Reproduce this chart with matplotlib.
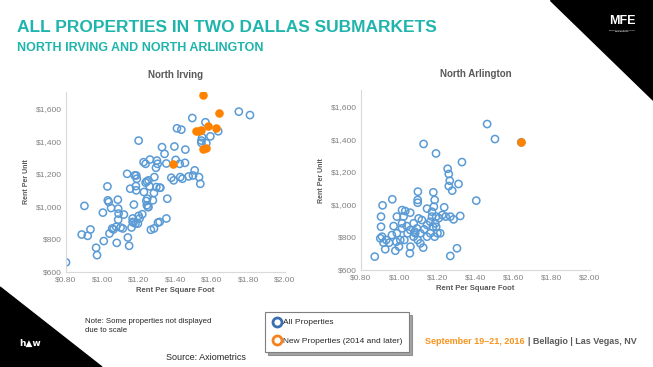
import matplotlib
matplotlib.use("Agg")
from matplotlib import pyplot as plt
from matplotlib.lines import Line2D
from matplotlib.patches import Polygon
from matplotlib.ticker import FuncFormatter, MultipleLocator

plt.rcParams['font.family'] = ['Liberation Sans', 'DejaVu Sans']

# North Irving - all properties (rent per sq ft, rent per unit)
irving_psf = [0.80, 0.886, 0.919, 0.934, 0.901, 0.965, 0.970, 1.007, 1.002, 1.027,
              1.029, 1.034, 1.047, 1.053, 1.060, 1.038, 1.075, 1.086, 1.084, 1.088,
              1.086, 1.078, 1.099, 1.111, 1.117, 1.135, 1.139, 1.146, 1.152, 1.159,
              1.165, 1.165, 1.172, 1.176, 1.185, 1.188, 1.185, 1.183, 1.170, 1.181,
              1.194, 1.198, 1.203, 1.198, 1.218, 1.225, 1.236, 1.227, 1.236, 1.240,
              1.243, 1.245, 1.249, 1.243, 1.252, 1.258, 1.252, 1.260, 1.265, 1.276,
              1.282, 1.282, 1.284, 1.293, 1.298, 1.302, 1.295, 1.304, 1.313, 1.313,
              1.317, 1.326, 1.340, 1.350, 1.355, 1.350, 1.377, 1.390, 1.394, 1.401,
              1.408, 1.423, 1.432, 1.426, 1.438, 1.454, 1.452, 1.472, 1.492, 1.496,
              1.505, 1.529, 1.536, 1.542, 1.542, 1.546, 1.564, 1.569, 1.591, 1.634,
              1.747, 1.808]
irving_rent = [659, 829, 821, 860, 1004, 748, 703, 789, 963, 1123,
               1038, 1028, 991, 866, 860, 835, 876, 987, 1042, 957,
               920, 778, 872, 866, 951, 1200, 811, 760, 1109, 872,
               927, 906, 1012, 1190, 1190, 1170, 1099, 1125, 902, 896,
               896, 943, 927, 1403, 953, 1271, 1261, 1089, 1146, 1034,
               1008, 1048, 997, 1154, 1160, 1123, 997, 1287, 858, 1038,
               866, 1083, 1180, 1237, 1281, 1261, 1119, 902, 906, 1115,
               1115, 1363, 1322, 1263, 1048, 927, 1176, 1160, 1367, 1285,
               1478, 1261, 1470, 1180, 1170, 1348, 1267, 1184, 1541, 1190,
               1221, 1180, 1139, 1403, 1389, 1423, 1515, 1387, 1429, 1460,
               1580, 1559]

# North Irving - new properties (2014 and later)
irving_new_psf = [1.514, 1.541, 1.578, 1.620, 1.637, 1.550, 1.550, 1.565, 1.385, 1.530]
irving_new_rent = [1464, 1468, 1495, 1479, 1572, 1681, 1353, 1357, 1262, 1462]

# North Arlington - all properties
arl_psf = [0.872, 0.913, 0.964, 1.128, 1.193, 1.329, 1.254, 1.260, 1.265, 1.260,
           1.311, 1.278, 1.461, 1.502, 1.404, 1.098, 1.097, 1.097, 1.179, 1.186,
           1.182, 1.146, 1.236, 1.320, 1.268, 1.285, 1.208, 0.905, 0.905, 0.910,
           0.901, 0.918, 0.932, 0.927, 0.980, 0.999, 0.971, 0.988, 1.015, 1.032,
           1.058, 1.023, 1.040, 1.015, 1.027, 1.059, 1.056, 1.126, 1.093, 1.084,
           1.102, 1.076, 1.111, 1.131, 1.146, 1.163, 1.172, 1.177, 1.189, 1.186,
           1.201, 1.215, 1.268, 1.303, 1.146, 1.119, 1.058, 1.044, 0.988, 1.006,
           0.962, 0.985, 0.947, 1.097, 1.111, 1.163, 1.194, 1.081, 1.076, 1.015,
           1.194, 1.226, 1.244, 1.172, 1.640]
arl_rent = [682, 996, 1033, 1372, 1314, 1261, 1220, 1188, 1147, 1114,
            1127, 1086, 1494, 1402, 1025, 1080, 1029, 1012, 1076, 1029,
            988, 976, 984, 931, 927, 910, 918, 927, 865, 804,
            794, 767, 784, 727, 718, 743, 869, 927, 967, 961,
            951, 927, 869, 855, 784, 743, 702, 737, 855, 825,
            916, 804, 825, 849, 876, 896, 927, 865, 886, 804,
            825, 825, 686, 733, 804, 906, 845, 825, 825, 784,
            814, 773, 767, 784, 763, 825, 865, 835, 886, 886,
            927, 937, 927, 957, 1382]

# North Arlington - new properties
arl_new_psf = [1.638]
arl_new_rent = [1382]

BLUE = '#5b9bd5'
ORANGE = '#ff8200'
TEAL = '#1fb5ac'
GRAY = '#595959'
TICK = '#808080'

W, H = 653, 367
fig = plt.figure(figsize=(W / 100, H / 100), dpi=100)


def px(x, y):
    return x / W, 1 - y / H


def style_axes(ax, title):
    ax.set_xlim(0.8, 2.0)
    ax.set_ylim(600, 1700)
    ax.xaxis.set_major_locator(MultipleLocator(0.2))
    ax.yaxis.set_major_locator(MultipleLocator(200))
    ax.xaxis.set_major_formatter(FuncFormatter(lambda v, p: '${:.2f}'.format(v)))
    ax.yaxis.set_major_formatter(FuncFormatter(lambda v, p: '${:,.0f}'.format(v)))
    for s in ['top', 'right']:
        ax.spines[s].set_visible(False)
    for s in ['left', 'bottom']:
        ax.spines[s].set_color('#d9d9d9')
        ax.spines[s].set_linewidth(0.8)
    ax.tick_params(length=0, labelsize=6, labelcolor=TICK, pad=3)
    ax.set_xlabel('Rent Per Square Foot', fontsize=5.5, fontweight='bold', color=GRAY, labelpad=3)
    ax.set_ylabel('Rent Per Unit', fontsize=5, fontweight='bold', color=GRAY, labelpad=4)
    ax.set_title(title, fontsize=7, fontweight='bold', color=GRAY, pad=10)
    ax.patch.set_alpha(0)


ax1 = fig.add_axes([66 / W, 1 - 272 / H, 219 / W, 180 / H])
ax1.scatter(irving_psf, irving_rent, s=27, facecolors='none', edgecolors=BLUE, linewidths=1.1)
ax1.scatter(irving_new_psf, irving_new_rent, s=38, color=ORANGE, linewidths=0, zorder=3)
style_axes(ax1, 'North Irving')

ax2 = fig.add_axes([361 / W, 1 - 270 / H, 229 / W, 179.6 / H])
ax2.scatter(arl_psf, arl_rent, s=27, facecolors='none', edgecolors=BLUE, linewidths=1.1)
ax2.scatter(arl_new_psf, arl_new_rent, s=38, color=ORANGE, linewidths=0, zorder=3)
style_axes(ax2, 'North Arlington')

# slide decorations
fig.patches.append(Polygon([px(550, 0), px(653, 0), px(653, 100)], closed=True,
                           transform=fig.transFigure, color='black', zorder=0))
fig.patches.append(Polygon([px(0, 287), px(102, 367), px(0, 367)], closed=True,
                           transform=fig.transFigure, color='black', zorder=0))
fig.text(*px(622, 21), 'MFE', color='white', fontsize=9, fontweight='bold',
         ha='center', va='center')
fig.text(*px(622, 31), 'MULTIFAMILY EXECUTIVE\nCONFERENCE', color='white', fontsize=1.5,
         ha='center', va='center', linespacing=1.0)
fig.text(*px(30, 343), 'h\u25B2w', color='white', fontsize=6.5, fontweight='bold',
         ha='center', va='center', family=['DejaVu Sans'])

fig.text(*px(17, 28), 'ALL PROPERTIES IN TWO DALLAS SUBMARKETS', color=TEAL,
         fontsize=12.5, fontweight='bold', va='center', ha='left')
fig.text(*px(17, 48), 'NORTH IRVING AND NORTH ARLINGTON', color=TEAL,
         fontsize=9, fontweight='bold', va='center', ha='left')

fig.text(*px(85, 326), 'Note: Some properties not displayed\ndue to scale', color='#262626',
         fontsize=5.6, va='center', ha='left', linespacing=1.4)
fig.text(*px(166, 358), 'Source: Axiometrics', color='#262626', fontsize=6.5,
         va='center', ha='left')

handles = [Line2D([], [], ls='none', marker='o', ms=6.5, mfc='white', mec='#3a6fb0', mew=2),
           Line2D([], [], ls='none', marker='o', ms=6.5, mfc='white', mec='#f58220', mew=2)]
leg = fig.legend(handles, ['All Properties', 'New Properties (2014 and later)'],
                 loc='upper left', bbox_to_anchor=px(265, 312), bbox_transform=fig.transFigure,
                 fontsize=6, frameon=True, fancybox=False, shadow=True,
                 handletextpad=0.2, borderpad=0.8, labelspacing=1.3, handlelength=1.2,
                 borderaxespad=0)
leg.get_frame().set_edgecolor('#7f7f7f')
leg.get_frame().set_linewidth(0.8)
for t in leg.get_texts():
    t.set_color('#262626')

fig.text(*px(425, 341), 'September 19\u201321, 2016', color='#f7941d', fontsize=6.5,
         fontweight='bold', va='center', ha='left')
fig.text(*px(528, 341), '| Bellagio | Las Vegas, NV', color=GRAY, fontsize=6.5,
         fontweight='bold', va='center', ha='left')

fig.savefig('out.png', dpi=100)
